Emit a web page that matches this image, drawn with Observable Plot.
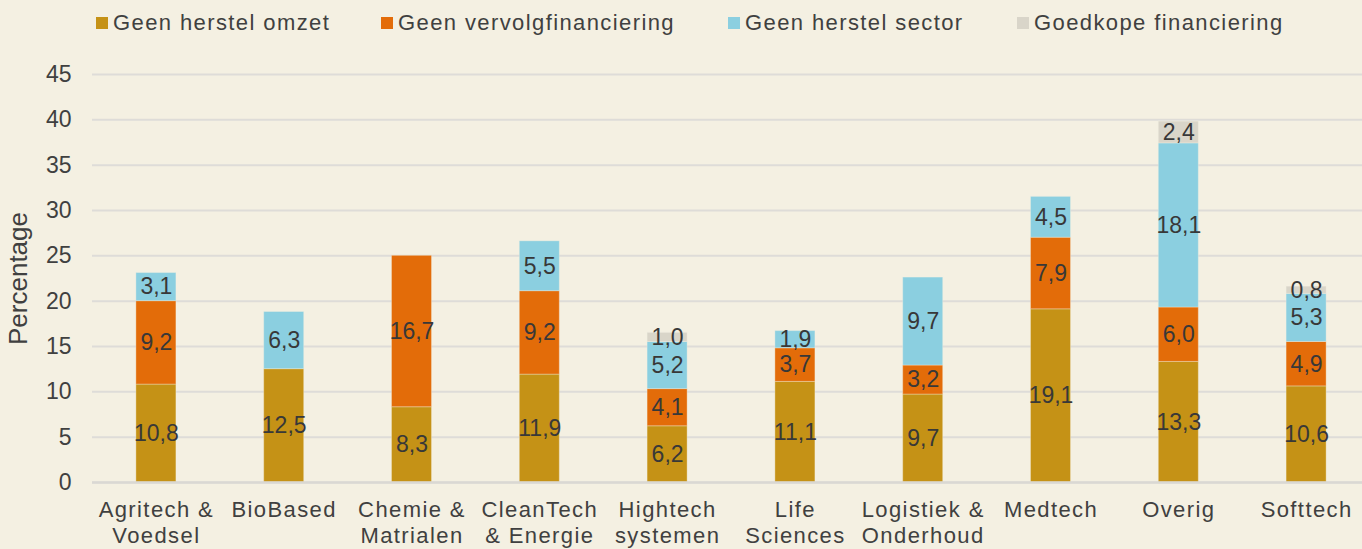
<!DOCTYPE html>
<html>
<head>
<meta charset="utf-8">
<script src="https://cdn.jsdelivr.net/npm/d3@7"></script>
<script src="https://cdn.jsdelivr.net/npm/@observablehq/plot@0.6"></script>
<style>
  html, body { margin: 0; padding: 0; background: #F4F0E2; overflow: hidden; width: 1362px; height: 549px; }
  body { font-family: "Liberation Sans", Arial, sans-serif; color: #404040; }
  #legend { position: relative; height: 48px; }
  .item { position: absolute; top: 10px; height: 26px; display: flex; align-items: center; font-size: 22px; letter-spacing: 1.4px; white-space: nowrap; }
  .sw { width: 12px; height: 12px; margin-right: 5px; }
  #chart svg { display: block; max-width: none !important; }
  #chart g[aria-label="x-axis tick label"] { letter-spacing: 1.4px; }
  #chart g[aria-label="y-axis label"] { font-size: 26px; }
</style>
</head>
<body>
<div id="legend"></div>
<div id="chart"></div>
<script>
const categories = ["Agritech & Voedsel", "BioBased", "Chemie & Matrialen", "CleanTech & Energie", "Hightech systemen", "Life Sciences", "Logistiek & Onderhoud", "Medtech", "Overig", "Softtech"];
const tickLabels = ["Agritech &\nVoedsel", "BioBased", "Chemie &\nMatrialen", "CleanTech\n& Energie", "Hightech\nsystemen", "Life\nSciences", "Logistiek &\nOnderhoud", "Medtech", "Overig", "Softtech"];
const series = ["Geen herstel omzet", "Geen vervolgfinanciering", "Geen herstel sector", "Goedkope financiering"];
const colors = ["#C59216", "#E36C09", "#8BCFE0", "#D9D5C9"];
const geenHerstelOmzet = [10.8, 12.5, 8.3, 11.9, 6.2, 11.1, 9.7, 19.1, 13.3, 10.6];
const geenVervolgfinanciering = [9.2, 0, 16.7, 9.2, 4.1, 3.7, 3.2, 7.9, 6.0, 4.9];
const geenHerstelSector = [3.1, 6.3, 0, 5.5, 5.2, 1.9, 9.7, 4.5, 18.1, 5.3];
const goedkopeFinanciering = [0, 0, 0, 0, 1.0, 0, 0, 0, 2.4, 0.8];
const yTicks = [0, 5, 10, 15, 20, 25, 30, 35, 40, 45];

const seriesValues = [geenHerstelOmzet, geenVervolgfinanciering, geenHerstelSector, goedkopeFinanciering];
const data = [];
series.forEach((s, si) => categories.forEach((c, ci) => data.push({cat: c, series: s, value: seriesValues[si][ci]})));
const labelOf = new Map(categories.map((c, i) => [c, tickLabels[i]]));
const fmt = v => d3.format(".1f")(v).replace(".", ",");

// legend
const legendPos = [96, 381, 728, 1017];
const legend = document.getElementById("legend");
series.forEach((s, i) => {
  const el = document.createElement("div");
  el.className = "item";
  el.style.left = legendPos[i] + "px";
  el.innerHTML = `<span class="sw" style="background:${colors[i]}"></span><span>${s}</span>`;
  legend.appendChild(el);
});

const chart = Plot.plot({
  width: 1370,
  height: 501,
  marginTop: 26,
  marginBottom: 67,
  marginLeft: 92,
  marginRight: 0,
  style: { background: "transparent", fontFamily: "'Liberation Sans', Arial, sans-serif", fontSize: "22px", color: "#404040", overflow: "visible" },
  x: { domain: categories, paddingInner: 0.687, paddingOuter: 0.3435, align: 0.5, round: false },
  y: { domain: [0, 45] },
  color: { domain: series, range: colors },
  marks: [
    Plot.gridY(yTicks, { stroke: "#DEDCD8", strokeOpacity: 1, strokeWidth: 2 }),
    Plot.axisY(yTicks, {
      tickSize: 0, tickPadding: 21, fontSize: 23, fill: "#404040",
      label: "Percentage", labelAnchor: "center", labelArrow: "none", labelOffset: 84
    }),
    Plot.axisX({
      tickSize: 0, tickPadding: 17, fontSize: 22, fill: "#404040", lineHeight: 1.15,
      tickFormat: d => labelOf.get(d), label: null
    }),
    Plot.barY(data, {
      x: "cat", y: "value", fill: "series", order: series,
      stroke: "#F4F0E2", strokeOpacity: 0.35, strokeWidth: 1
    }),
    Plot.ruleY([0], { stroke: "#DAD8D3", strokeWidth: 2.5 }),
    Plot.text(data, Plot.stackY({
      x: "cat", y: "value", z: "series", order: series,
      text: d => d.value > 0 ? fmt(d.value) : "",
      fontSize: 23, fill: "#383838"
    }))
  ]
});
document.getElementById("chart").appendChild(chart);
</script>
</body>
</html>
